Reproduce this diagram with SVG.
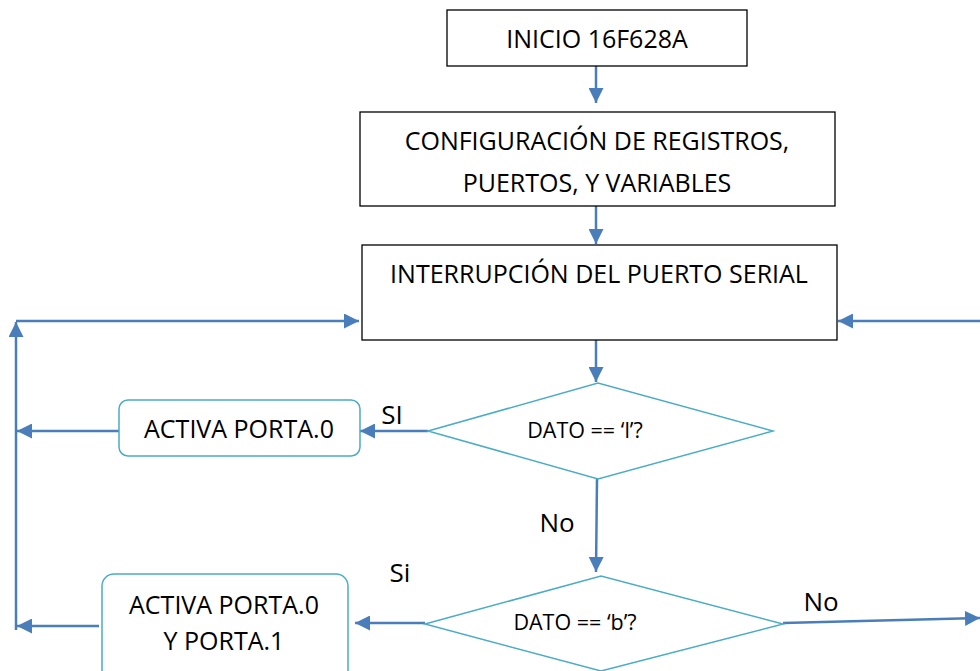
<svg xmlns="http://www.w3.org/2000/svg" width="980" height="671" viewBox="0 0 980 671">
<style>
.box{fill:#fff;stroke:#000;stroke-width:1.3}
.rbox{fill:#fff;stroke:#4BACC6;stroke-width:1.5}
.dia{fill:#fff;stroke:#4BACC6;stroke-width:1.5}
.t{font-family:"Open Sans","Liberation Sans",sans-serif;font-size:25px;fill:#000;text-anchor:middle}
.l{font-family:"Open Sans","Liberation Sans",sans-serif;font-size:26px;fill:#000;text-anchor:middle}
.s{font-family:"Open Sans","Liberation Sans",sans-serif;font-size:21.5px;fill:#000;text-anchor:middle}
.c{fill:none;stroke:#4A7EBB;stroke-width:2.5}
</style>
<defs>
<marker id="ah" viewBox="0 0 10 10" refX="10" refY="5" markerWidth="6" markerHeight="6" markerUnits="strokeWidth" orient="auto">
<path d="M0,0 L10,5 L0,10 z" fill="#4A7EBB"/>
</marker>
</defs>
<g id="connectors">
<line class="c" x1="596" y1="66" x2="596" y2="103" marker-end="url(#ah)"/>
<line class="c" x1="596" y1="206" x2="596" y2="244" marker-end="url(#ah)"/>
<line class="c" x1="596" y1="340" x2="596" y2="382" marker-end="url(#ah)"/>
<line class="c" x1="16" y1="321" x2="359" y2="321" marker-end="url(#ah)"/>
<line class="c" x1="980" y1="321" x2="838" y2="321" marker-end="url(#ah)"/>
<line class="c" x1="16" y1="630" x2="16" y2="322" marker-end="url(#ah)"/>
<line class="c" x1="428" y1="431" x2="360" y2="431" marker-end="url(#ah)"/>
<line class="c" x1="119" y1="431" x2="17" y2="431" marker-end="url(#ah)"/>
<line class="c" x1="597" y1="479" x2="596" y2="572" marker-end="url(#ah)"/>
<line class="c" x1="425" y1="623" x2="355" y2="623" marker-end="url(#ah)"/>
<line class="c" x1="99" y1="626" x2="17" y2="626" marker-end="url(#ah)"/>
<line class="c" x1="783" y1="623" x2="980" y2="618" marker-end="url(#ah)"/>
<text class="l" x="392" y="424">SI</text>
<text class="l" x="557" y="532">No</text>
<text class="l" x="400" y="582">Si</text>
<text class="l" x="821" y="611">No</text>
</g>
<g id="inicio">
<rect class="box" x="447" y="10" width="300" height="56"/>
<text class="t" x="597" y="48">INICIO 16F628A</text>
</g>
<g id="config">
<rect class="box" x="360" y="112" width="475" height="94"/>
<text class="t" x="597" y="150">CONFIGURACIÓN DE REGISTROS,</text>
<text class="t" x="597" y="192">PUERTOS, Y VARIABLES</text>
</g>
<g id="interrupcion">
<rect class="box" x="362" y="245" width="475" height="95"/>
<text class="t" x="599" y="283">INTERRUPCIÓN DEL PUERTO SERIAL</text>
</g>
<g id="dato-l">
<polygon class="dia" points="428,431 598,383 773,431 598,479"/>
<text class="s" x="585" y="438">DATO == ‘l’?</text>
</g>
<g id="dato-b">
<polygon class="dia" points="425,624 601,576 783,624 601,671"/>
<text class="s" x="575" y="630">DATO == ‘b’?</text>
</g>
<g id="activa0">
<rect class="rbox" x="119" y="400" width="241" height="56" rx="9"/>
<text class="t" x="239" y="438">ACTIVA PORTA.0</text>
</g>
<g id="activa01">
<rect class="rbox" x="102" y="574" width="246" height="110" rx="12"/>
<text class="t" x="224" y="614">ACTIVA PORTA.0</text>
<text class="t" x="224" y="650">Y PORTA.1</text>
</g>
</svg>
